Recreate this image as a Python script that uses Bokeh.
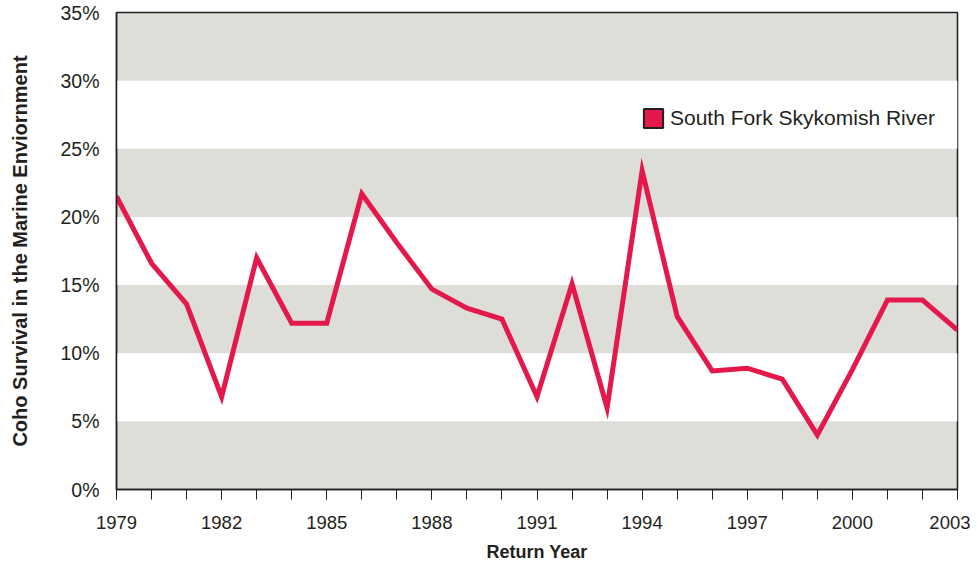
from bokeh.plotting import figure
from bokeh.models import (FixedTicker, PrintfTickFormatter, Legend, LegendItem,
                          Range1d, ColumnDataSource)
from bokeh.embed import file_html
from bokeh.resources import INLINE

years = list(range(1979, 2004))
survival = [21.5, 16.6, 13.6, 6.8, 17.0, 12.2, 12.2, 21.7, 18.1, 14.7, 13.3, 12.5,
            6.8, 15.1, 6.0, 23.4, 12.7, 8.7, 8.9, 8.1, 4.0, 8.8, 13.9, 13.9, 11.7]
series_name = "South Fork Skykomish River"
x_tick_years = list(range(1979, 2004, 3))
y_ticks = [0, 5, 10, 15, 20, 25, 30, 35]

DARK = "#231F20"
RED = "#E3194B"
GRAY = "#DEDED8"
FONT = "Liberation Sans"

p = figure(width=970, height=567, output_backend="svg", toolbar_location=None,
           x_range=Range1d(1979, 2003), y_range=Range1d(0, 35),
           min_border_top=12, min_border_right=13, min_border_left=116,
           min_border_bottom=78)

p.background_fill_color = GRAY
p.border_fill_color = "white"
p.outline_line_color = DARK
p.outline_line_width = 1.5

p.xgrid.visible = False
p.ygrid.ticker = FixedTicker(ticks=y_ticks)
p.ygrid.grid_line_color = None
p.ygrid.band_fill_color = "white"
p.ygrid.band_fill_alpha = 1.0

# x axis
xa = p.xaxis[0]
xa.ticker = FixedTicker(ticks=x_tick_years, minor_ticks=years)
xa.axis_line_color = DARK
xa.axis_line_width = 1.5
xa.major_tick_line_color = DARK
xa.minor_tick_line_color = DARK
xa.major_tick_out = 10
xa.major_tick_in = 0
xa.minor_tick_out = 10
xa.minor_tick_in = 0
xa.major_label_text_font = FONT
xa.major_label_text_font_size = "18.5px"
xa.major_label_text_color = DARK
xa.major_label_standoff = 16
xa.axis_label = "Return Year"
xa.axis_label_text_font = FONT
xa.axis_label_text_font_style = "bold"
xa.axis_label_text_font_size = "18px"
xa.axis_label_text_color = DARK
xa.axis_label_standoff = 10

# y axis
ya = p.yaxis[0]
ya.ticker = FixedTicker(ticks=y_ticks)
ya.formatter = PrintfTickFormatter(format="%d%%")
ya.axis_line_color = DARK
ya.axis_line_width = 1.5
ya.major_tick_out = 0
ya.major_tick_in = 0
ya.minor_tick_line_color = None
ya.major_label_text_font = FONT
ya.major_label_text_font_size = "19.5px"
ya.major_label_text_color = DARK
ya.major_label_standoff = 17
ya.axis_label = "Coho Survival in the Marine Enviornment"
ya.axis_label_text_font = FONT
ya.axis_label_text_font_style = "bold"
ya.axis_label_text_font_size = "20px"
ya.axis_label_text_color = DARK
ya.axis_label_standoff = 26

src = ColumnDataSource(data=dict(year=years, survival=survival))
p.line("year", "survival", source=src, line_color=RED, line_width=5, line_join="miter")

# legend swatch renderer: zero-size boxes on the data (invisible in the plot),
# used only so the legend draws a filled square
swatch = p.quad(left="year", right="year", top="survival", bottom="survival",
                source=src, fill_color=RED, line_color=DARK, line_width=2)

legend = Legend(items=[LegendItem(label=series_name, renderers=[swatch])],
                location=(525, 359), padding=0, margin=0, spacing=0,
                glyph_width=24, glyph_height=24, label_standoff=5,
                label_height=24,
                background_fill_alpha=0, border_line_color=None,
                label_text_font=FONT, label_text_font_size="21px",
                label_text_color=DARK)
p.add_layout(legend, "center")

open("out.html", "w").write(file_html(p, INLINE))
